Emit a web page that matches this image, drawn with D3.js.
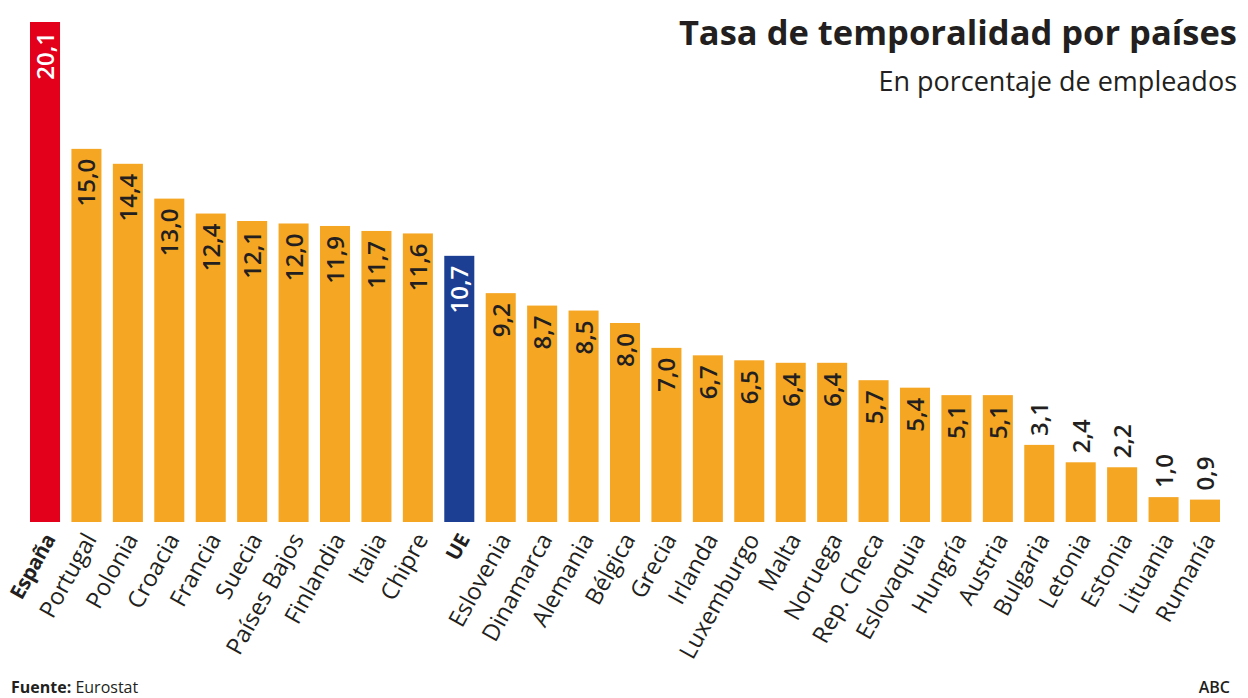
<!DOCTYPE html>
<html><head><meta charset="utf-8">
<script src="https://cdn.jsdelivr.net/npm/d3@7"></script>
<style>body{margin:0;background:#fff}svg{display:block}</style>
</head><body>
<script>
const countries = ["España","Portugal","Polonia","Croacia","Francia","Suecia","Países Bajos","Finlandia","Italia","Chipre","UE","Eslovenia","Dinamarca","Alemania","Bélgica","Grecia","Irlanda","Luxemburgo","Malta","Noruega","Rep. Checa","Eslovaquia","Hungría","Austria","Bulgaria","Letonia","Estonia","Lituania","Rumanía"];
const values = [20.1,15.0,14.4,13.0,12.4,12.1,12.0,11.9,11.7,11.6,10.7,9.2,8.7,8.5,8.0,7.0,6.7,6.5,6.4,6.4,5.7,5.4,5.1,5.1,3.1,2.4,2.2,1.0,0.9];
const highlight = {"España":"#e2001a","UE":"#1c3f94"};
const boldLabels = ["España","UE"];
const title = "Tasa de temporalidad por países";
const subtitle = "En porcentaje de empleados";

const W = 1248, H = 698;
const font = "'Open Sans', sans-serif";
const svg = d3.select("body").append("svg").attr("width", W).attr("height", H);

const x = d3.scaleBand().domain(countries).range([30, 1220]).paddingInner(0.275).paddingOuter(0);
const y = d3.scaleLinear().domain([0, 20.1]).range([522, 22]);

const data = countries.map((c, i) => ({c, v: values[i]}));
const fmt = v => d3.format(".1f")(v).replace(".", ",");

svg.selectAll("rect.bar").data(data).join("rect")
  .attr("x", d => x(d.c)).attr("width", x.bandwidth())
  .attr("y", d => y(d.v)).attr("height", d => y(0) - y(d.v))
  .attr("fill", d => highlight[d.c] || "#f5a623");

// value labels
svg.selectAll("text.val").data(data).join("text")
  .attr("class", "val")
  .attr("transform", d => {
    const cx = x(d.c) + x.bandwidth() / 2;
    const inside = d.v >= 5;
    const yy = inside ? y(d.v) + 10 : y(d.v) - 9;
    return `translate(${cx + 9},${yy}) rotate(-90)`;
  })
  .attr("text-anchor", d => d.v >= 5 ? "end" : "start")
  .attr("font-family", font).attr("font-weight", 600).attr("font-size", 24)
  .attr("fill", d => highlight[d.c] ? "#fff" : "#231f20")
  .text(d => fmt(d.v));

// category labels
svg.selectAll("text.cat").data(data).join("text")
  .attr("class", "cat")
  .attr("transform", d => `translate(${x(d.c) + x.bandwidth() / 2 + 11},${539}) rotate(-61)`)
  .attr("text-anchor", "end")
  .attr("font-family", font)
  .attr("font-size", d => boldLabels.includes(d.c) ? 20.5 : 23.5)
  .attr("letter-spacing", d => boldLabels.includes(d.c) ? -0.4 : 0)
  .attr("font-weight", d => boldLabels.includes(d.c) ? 700 : 400)
  .attr("fill", "#231f20")
  .text(d => d.c);

svg.append("text").attr("x", 1237).attr("y", 45).attr("text-anchor", "end")
  .attr("font-family", font).attr("font-weight", 700).attr("font-size", 34.5)
  .attr("fill", "#231f20").text(title);
svg.append("text").attr("x", 1237).attr("y", 91).attr("text-anchor", "end")
  .attr("font-family", font).attr("font-size", 27)
  .attr("fill", "#231f20").text(subtitle);

const f = svg.append("text").attr("x", 11).attr("y", 693)
  .attr("font-family", font).attr("font-size", 16).attr("fill", "#231f20");
f.append("tspan").attr("font-weight", 700).text("Fuente:");
f.append("tspan").text(" Eurostat");
svg.append("text").attr("x", 1230).attr("y", 693).attr("text-anchor", "end")
  .attr("font-family", font).attr("font-weight", 600).attr("font-size", 16)
  .attr("fill", "#231f20").text("ABC");
</script>
</body></html>
